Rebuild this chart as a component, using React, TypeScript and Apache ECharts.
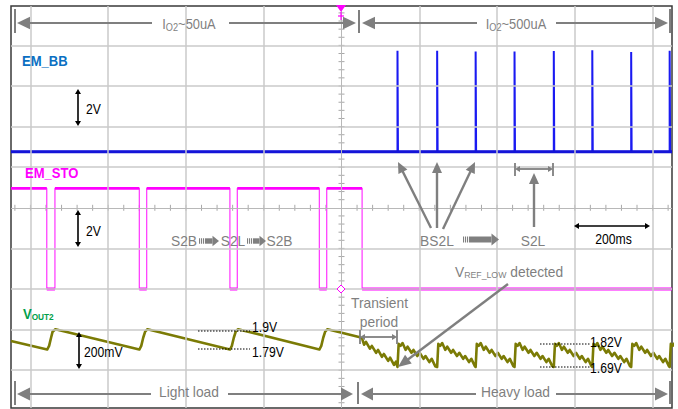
import React, { useEffect, useRef } from "react";
import * as echarts from "echarts";

// ---- axes (time in ms, vertical in screen divisions) ----
const X_RANGE = [-850, 850];
const Y_RANGE = [-4.93, 4.97];
const GRID_X_MS = [-800, -600, -400, -200, 200, 400, 600, 800];
const GRID_Y_DIV = [-4, -3, -2, -1, 1, 2, 3, 4];

// ---- EM_BB (blue) ----
const EM_BB_BASE = 1.38;
const EM_BB_PULSE_MS = [144, 246, 345, 445, 546, 645, 745, 844];
const EM_BB_PULSE_TOP = [3.87, 3.87, 3.85, 3.85, 3.86, 3.88, 3.84, 3.87];

// ---- EM_STO (magenta) ----
const EM_STO_HIGH = 0.48;
const EM_STO_LOW = -2.0;
const EM_STO_LOW_START = [-758, -520, -287, -57, 53];
const EM_STO_LOW_END = [-737, -501, -268, -38, 850];

// ---- VOUT2 (olive) ----
const VOUT2_LIGHT: number[][] = [
  [-850, -3.28], [-757, -3.49], [-752, -3.4], [-747, -3.2], [-743, -3.05], [-736, -2.99],
  [-520, -3.49], [-515, -3.4], [-510, -3.2], [-505, -3.05], [-499, -2.99],
  [-287, -3.49], [-282, -3.4], [-277, -3.2], [-272, -3.05], [-266, -2.99],
  [-57, -3.49], [-52, -3.4], [-47, -3.2], [-42, -3.05], [-36, -2.99],
  [45, -3.18],
];
const VOUT2_TRANSIENT: number[][] = [
  [53, -3.22], [58, -3.37], [63, -3.3], [73, -3.47], [78, -3.4], [89, -3.57], [94, -3.5],
  [104, -3.67], [109, -3.6], [120, -3.77], [125, -3.69], [135, -3.87], [140, -3.79],
];
// one heavy-load cycle (offset ms from the EM_BB pulse, level in div)
const VOUT2_HEAVY_CYCLE: number[][] = [
  [0, -3.92], [3, -3.35], [8, -3.4], [13, -3.33], [21, -3.5], [26, -3.42], [36, -3.57],
  [41, -3.5], [51, -3.65], [57, -3.57], [67, -3.72], [72, -3.65], [82, -3.8], [88, -3.72], [97, -3.9],
];

const GRAY = "#7f7f7f";
const FONT = "Arial, 'Liberation Sans', sans-serif";

let measureCtx: CanvasRenderingContext2D | null = null;
function textWidth(s: string, size: number, weight: string) {
  if (!measureCtx) measureCtx = document.createElement("canvas").getContext("2d");
  measureCtx!.font = `${weight} ${size}px ${FONT}`;
  return measureCtx!.measureText(s).width;
}
type Part = { t: string; size: number; dy?: number; weight?: string };
function label(x: number, y: number, parts: Part[], color: string, align: "left" | "center", sx: number) {
  const widths = parts.map((p) => textWidth(p.t, p.size, p.weight || "normal") * sx);
  const total = widths.reduce((a, b) => a + b, 0);
  let cx = align === "center" ? x - total / 2 : x;
  return parts.map((p, i) => {
    const el = {
      type: "text", x: cx, y: y + (p.dy || 0), scaleX: sx, z: 60, silent: true,
      style: { text: p.t, fill: color, fontSize: p.size, fontFamily: FONT, fontWeight: p.weight || "normal", align: "left", verticalAlign: "middle" },
    };
    cx += widths[i];
    return el;
  });
}
function seg(x1: number, y1: number, x2: number, y2: number, stroke: string, w: number, dash?: number[]) {
  const style: any = { stroke, lineWidth: w };
  if (dash) style.lineDash = dash;
  return { type: "line", z: 50, silent: true, shape: { x1, y1, x2, y2 }, style };
}
function head(tx: number, ty: number, fx: number, fy: number, len: number, half: number, fill: string) {
  const dx = tx - fx, dy = ty - fy, L = Math.hypot(dx, dy);
  const ux = dx / L, uy = dy / L;
  const bx = tx - ux * len, by = ty - uy * len;
  const px = -uy, py = ux;
  return {
    type: "polygon", z: 51, silent: true,
    shape: { points: [[tx, ty], [bx + px * half, by + py * half], [bx - px * half, by - py * half]] },
    style: { fill },
  };
}
function arrow(x1: number, y1: number, x2: number, y2: number, color: string, w: number, len: number, half: number) {
  const dx = x2 - x1, dy = y2 - y1, L = Math.hypot(dx, dy);
  const bx = x2 - (dx / L) * (len - 1), by = y2 - (dy / L) * (len - 1);
  return [seg(x1, y1, bx, by, color, w), head(x2, y2, x1, y1, len, half, color)];
}
function dbl(x1: number, y1: number, x2: number, y2: number, color: string, w: number, len: number, half: number) {
  const dx = x2 - x1, dy = y2 - y1, L = Math.hypot(dx, dy);
  const ux = dx / L, uy = dy / L;
  return [
    seg(x1 + ux * (len - 1), y1 + uy * (len - 1), x2 - ux * (len - 1), y2 - uy * (len - 1), color, w),
    head(x1, y1, x2, y2, len, half, color),
    head(x2, y2, x1, y1, len, half, color),
  ];
}
function blockArrow(x0: number, x1: number, cy: number, bodyHalf: number, headHalf: number, headLen: number) {
  const els: any[] = [];
  for (let i = 0; i < 3; i++)
    els.push({ type: "rect", z: 50, silent: true, shape: { x: x0 + i * 2, y: cy - bodyHalf, width: 1.1, height: bodyHalf * 2 }, style: { fill: GRAY } });
  els.push({ type: "rect", z: 50, silent: true, shape: { x: x0 + 6, y: cy - bodyHalf, width: x1 - headLen - (x0 + 6), height: bodyHalf * 2 }, style: { fill: GRAY } });
  els.push({ type: "polygon", z: 50, silent: true, shape: { points: [[x1 - headLen, cy - headHalf], [x1, cy], [x1 - headLen, cy + headHalf]] }, style: { fill: GRAY } });
  return els;
}

function buildGraphics() {
  const g: any[] = [];
  const GL = 15, GS = 0.92, BS = 0.87;
  // top arrows
  g.push(seg(15, 9, 15, 33, GRAY, 2), seg(359, 10, 359, 33, GRAY, 2), seg(670, 9, 670, 33, GRAY, 2));
  g.push(head(17, 23, 30, 23, 13, 6.3, GRAY), seg(29, 23, 152, 23, GRAY, 2.2));
  g.push(seg(229, 23, 344, 23, GRAY, 2.2), head(356, 23, 340, 23, 13, 6.3, GRAY));
  g.push(head(362, 23, 375, 23, 13, 6.3, GRAY), seg(374, 23, 477, 23, GRAY, 2.2));
  g.push(seg(556, 23, 657, 23, GRAY, 2.2), head(668, 23, 650, 23, 13, 6.3, GRAY));
  g.push(...label(189, 24, [{ t: "I", size: 14 }, { t: "O2", size: 10, dy: 3 }, { t: "~50uA", size: 14 }], GRAY, "center", GS));
  g.push(...label(516, 24, [{ t: "I", size: 14 }, { t: "O2", size: 10, dy: 3 }, { t: "~500uA", size: 14 }], GRAY, "center", GS));

  // bottom arrows
  g.push(seg(15, 381, 15, 405, GRAY, 2), seg(358, 382, 358, 404, GRAY, 2), seg(670, 381, 670, 404, GRAY, 2));
  g.push(head(17, 394, 30, 394, 13, 6.5, GRAY), seg(29, 394, 151, 394, GRAY, 2.2));
  g.push(seg(228, 394, 342, 394, GRAY, 2.2), head(353, 394, 340, 394, 12, 6.5, GRAY));
  g.push(head(361, 394, 372, 394, 12, 6.5, GRAY), seg(371, 394, 476, 394, GRAY, 2.2));
  g.push(seg(556, 394, 657, 394, GRAY, 2.2), head(668, 394, 650, 394, 13, 6.5, GRAY));
  g.push(...label(189, 392, [{ t: "Light load", size: GL }], GRAY, "center", GS));
  g.push(...label(515.5, 392, [{ t: "Heavy load", size: GL }], GRAY, "center", GS));

  // channel labels
  g.push(...label(22, 60.5, [{ t: "EM_BB", size: 15, weight: "bold" }], "#0a6fc2", "left", BS));
  g.push(...label(25, 172.5, [{ t: "EM_STO", size: 15, weight: "bold" }], "#ff00ff", "left", BS));
  g.push(...label(23, 313.5, [{ t: "V", size: 15, weight: "bold" }, { t: "OUT2", size: 9.5, weight: "bold", dy: 3 }], "#00a04a", "left", BS));

  // scale bars
  g.push(...dbl(78, 89, 78, 126, "#000", 1.6, 5, 3));
  g.push(...label(86, 108.7, [{ t: "2V", size: 14 }], "#000", "left", BS));
  g.push(...dbl(78, 210, 78, 247, "#000", 1.6, 5, 3));
  g.push(...label(86, 231.5, [{ t: "2V", size: 14 }], "#000", "left", BS));
  g.push(...dbl(79, 332, 79, 369, "#000", 1.6, 5, 3));
  g.push(...label(84, 352, [{ t: "200mV", size: 14 }], "#000", "left", BS));
  g.push(...dbl(574, 226, 650, 226, "#000", 1.6, 5, 3));
  g.push(...label(613.5, 239, [{ t: "200ms", size: 14 }], "#000", "center", BS));

  // S2B -> S2L -> S2B
  g.push(...label(184, 241, [{ t: "S2B", size: GL }], GRAY, "center", GS));
  g.push(...blockArrow(199, 219, 241, 2.7, 5.2, 6.5));
  g.push(...label(233, 241, [{ t: "S2L", size: GL }], GRAY, "center", GS));
  g.push(...blockArrow(247, 266, 241, 2.7, 5.2, 6.5));
  g.push(...label(279.5, 241, [{ t: "S2B", size: GL }], GRAY, "center", GS));

  // BS2L -> S2L
  g.push(...label(437, 241, [{ t: "BS2L", size: GL }], GRAY, "center", GS));
  g.push(...blockArrow(463, 499, 239.5, 3, 6, 7.5));
  g.push(...label(533, 241, [{ t: "S2L", size: GL }], GRAY, "center", GS));
  g.push(...arrow(431, 228, 398, 162, GRAY, 2.4, 11, 5));
  g.push(...arrow(437, 228, 437, 162, GRAY, 2.4, 11, 5));
  g.push(...arrow(443, 229, 475, 162, GRAY, 2.4, 11, 5));
  g.push(...arrow(534, 227, 534, 173, GRAY, 2.4, 11, 5));
  g.push(...dbl(515, 169, 553, 169, GRAY, 1.8, 5, 3));
  g.push(seg(515, 163, 515, 176, GRAY, 1.8), seg(553, 163, 553, 176, GRAY, 1.8));

  // VREF_LOW detected
  g.push(...label(455, 271.5, [{ t: "V", size: 15 }, { t: "REF_LOW", size: 9.5, dy: 3 }, { t: " detected", size: 15 }], GRAY, "left", GS));
  g.push(...arrow(508, 284, 398, 367, GRAY, 2.4, 13, 5.5));

  // Transient period
  g.push(...label(379.5, 302.5, [{ t: "Transient", size: GL }], GRAY, "center", GS));
  g.push(...label(379, 321.5, [{ t: "period", size: GL }], GRAY, "center", GS));
  g.push(...dbl(360, 337, 397, 337, GRAY, 1.8, 5, 3));
  g.push(seg(360, 330, 360, 344, GRAY, 1.8), seg(397, 330, 397, 344, GRAY, 1.8));

  // level markers
  g.push(seg(198, 331, 250, 331, "#000", 1, [1.5, 1.5]), seg(198, 349, 250, 349, "#000", 1, [1.5, 1.5]));
  g.push(...label(252, 327, [{ t: "1.9V", size: 14 }], "#000", "left", BS));
  g.push(...label(252, 352, [{ t: "1.79V", size: 14 }], "#000", "left", BS));
  g.push(seg(540, 344, 590, 344, "#000", 1, [1.5, 1.5]), seg(540, 367, 590, 367, "#000", 1, [1.5, 1.5]));
  g.push(...label(590, 342, [{ t: "1.82V", size: 14 }], "#000", "left", BS));
  g.push(...label(590, 368, [{ t: "1.69V", size: 14 }], "#000", "left", BS));

  // trigger marker and ground marker
  g.push({ type: "polygon", z: 55, silent: true, shape: { points: [[336, 5], [346, 5], [341, 12]] }, style: { fill: "#ff00ff" } });
  g.push(seg(341, 12, 341, 20, "#ff00ff", 1.2), seg(338, 16, 344, 16, "#ff00ff", 1.2));
  g.push({ type: "polygon", z: 55, silent: true, shape: { points: [[337, 289], [341, 285], [345, 289], [341, 293]] }, style: { fill: "#fff", stroke: "#ff00ff", lineWidth: 1 } });
  return g;
}

export default function App() {
  const ref = useRef<HTMLDivElement>(null);
  useEffect(() => {
    if (!ref.current) return;
    const chart = echarts.init(ref.current, undefined, { renderer: "svg" });

    // EM_BB trace
    const bb: number[][] = [[X_RANGE[0], EM_BB_BASE]];
    EM_BB_PULSE_MS.forEach((t, i) => {
      bb.push([t, EM_BB_BASE], [t, EM_BB_PULSE_TOP[i]], [t + 1.2, EM_BB_PULSE_TOP[i]], [t + 1.2, EM_BB_BASE]);
    });
    bb.push([X_RANGE[1], EM_BB_BASE]);

    // EM_STO trace
    const sto: number[][] = [[X_RANGE[0], EM_STO_HIGH]];
    const stoFlat: (number[] | null)[] = [[X_RANGE[0], EM_STO_HIGH]];
    EM_STO_LOW_START.forEach((a, i) => {
      const b = EM_STO_LOW_END[i];
      sto.push([a, EM_STO_HIGH], [a, EM_STO_LOW], [b, EM_STO_LOW]);
      stoFlat.push([a, EM_STO_HIGH], null as any, [a, EM_STO_LOW], [b, EM_STO_LOW]);
      if (b < X_RANGE[1]) {
        sto.push([b, EM_STO_HIGH]);
        stoFlat.push(null as any, [b, EM_STO_HIGH]);
      }
    });

    // VOUT2 trace
    const vout: number[][] = [...VOUT2_LIGHT, ...VOUT2_TRANSIENT];
    EM_BB_PULSE_MS.forEach((t0) => {
      VOUT2_HEAVY_CYCLE.forEach(([dt, v]) => vout.push([t0 + dt, v]));
    });

    // center-axis ticks
    const ticks: number[][] = [];
    for (let x = -840; x <= 840; x += 40) if (x !== 0) ticks.push([x, 0, 0]);
    for (let k = -24; k <= 24; k++) if (k !== 0) ticks.push([0, k * 0.2, 1]);

    const option: any = {
      animation: false,
      backgroundColor: "#fff",
      grid: { left: 11, top: 6, width: 661, height: 402, show: true, borderColor: "#3a3a3a", borderWidth: 1.5, backgroundColor: "#fff" },
      xAxis: { type: "value", min: X_RANGE[0], max: X_RANGE[1], axisLine: { show: false }, axisTick: { show: false }, axisLabel: { show: false }, splitLine: { show: false } },
      yAxis: { type: "value", min: Y_RANGE[0], max: Y_RANGE[1], axisLine: { show: false }, axisTick: { show: false }, axisLabel: { show: false }, splitLine: { show: false } },
      series: [
        {
          type: "line", z: 1, data: [[X_RANGE[0], Y_RANGE[0]]], showSymbol: false, lineStyle: { width: 0 }, silent: true,
          markLine: {
            silent: true, symbol: ["none", "none"], label: { show: false },
            lineStyle: { color: "#cacaca", width: 1.5, type: "solid" },
            data: [...GRID_X_MS.map((v) => ({ xAxis: v })), ...GRID_Y_DIV.map((v) => ({ yAxis: v }))],
          },
        },
        {
          type: "line", z: 1, data: [[X_RANGE[0], Y_RANGE[0]]], showSymbol: false, lineStyle: { width: 0 }, silent: true,
          markLine: {
            silent: true, symbol: ["none", "none"], label: { show: false },
            lineStyle: { color: "#b8b8b8", width: 1, type: "solid" },
            data: [{ xAxis: 0 }, { yAxis: 0 }],
          },
        },
        {
          type: "custom", z: 1, silent: true, data: ticks, encode: { x: 0, y: 1 },
          renderItem: (_p: any, api: any) => {
            const p = api.coord([api.value(0), api.value(1)]);
            const k = api.value(2);
            return {
              type: "line",
              shape: k === 0 ? { x1: p[0], y1: p[1] - 3, x2: p[0], y2: p[1] + 3 } : { x1: p[0] - 3, y1: p[1], x2: p[0] + 3, y2: p[1] },
              style: { stroke: "#a8a8a8", lineWidth: 1 },
            };
          },
        },
        { type: "line", z: 3, data: bb, showSymbol: false, silent: true, lineStyle: { color: "#1a1af2", width: 2 } },
        { type: "line", z: 3, data: [[X_RANGE[0], EM_BB_BASE], [X_RANGE[1], EM_BB_BASE]], showSymbol: false, silent: true, lineStyle: { color: "#1414d8", width: 3 } },
        { type: "line", z: 3, data: sto, showSymbol: false, silent: true, lineStyle: { color: "#ff33ff", width: 1.2 } },
        { type: "line", z: 3, data: stoFlat, showSymbol: false, silent: true, connectNulls: false, lineStyle: { color: "#ff00ff", width: 2.8 } },
        { type: "line", z: 3, data: vout, showSymbol: false, silent: true, lineStyle: { color: "#7b7b05", width: 2.6, join: "round" } },
      ],
      graphic: buildGraphics(),
    };
    chart.setOption(option);
    return () => chart.dispose();
  }, []);
  return <div ref={ref} style={{ position: "fixed", left: 0, top: 0, width: 678, height: 409, background: "#fff" }} />;
}
